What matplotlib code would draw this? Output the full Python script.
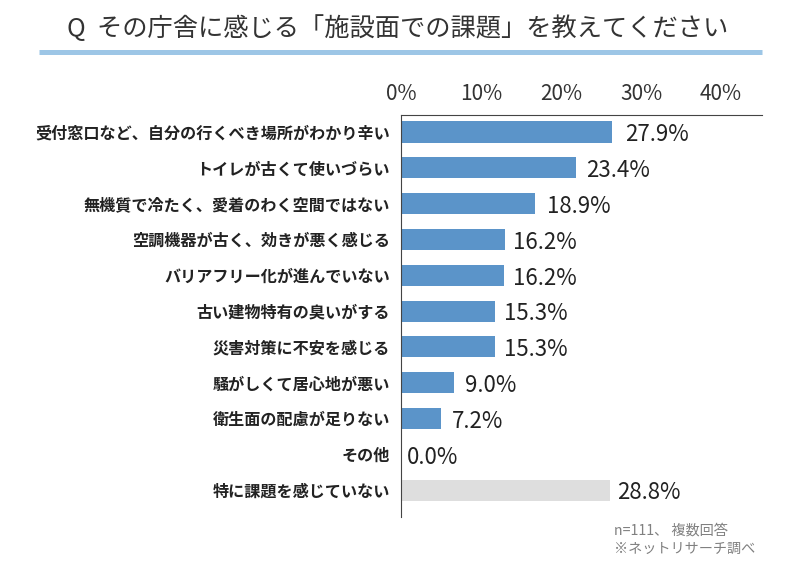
'''
This program will draw a bar chart of the facility problems people feel in government buildings.
'''

# For drawing the chart
import matplotlib.pyplot as plt
from matplotlib.lines import Line2D

plt.rcParams['font.family'] = ['Noto Sans CJK JP', 'DejaVu Sans']

labels = ['受付窓口など、自分の行くべき場所がわかり辛い', 'トイレが古くて使いづらい',
          '無機質で冷たく、愛着のわく空間ではない', '空調機器が古く、効きが悪く感じる',
          'バリアフリー化が進んでいない', '古い建物特有の臭いがする', '災害対策に不安を感じる',
          '騒がしくて居心地が悪い', '衛生面の配慮が足りない', 'その他', '特に課題を感じていない']
lengths = [26.4, 21.9, 16.8, 13.0, 12.9, 11.8, 11.8, 6.6, 5.0, 0.0, 26.1] # as drawn, bars do not follow the printed numbers
printed = ['27.9%', '23.4%', '18.9%', '16.2%', '16.2%', '15.3%', '15.3%', '9.0%', '7.2%', '0.0%', '28.8%']
gaps = [9, 7, 8, 6, 6, 6, 6, 8, 8, 4, 5] # points between bar end and number

def draw_chart():
    '''
    Draw the bars, their numbers and the axis lines.
    '''

    positions = list(range(len(labels)))
    colors = ['#5b94c9'] * 10 + ['#dedede']

    plt.axes([401 / 800, 1 - 517 / 568, 361 / 800, 402 / 568])
    plt.barh(positions, lengths, height=0.59, color=colors)
    plt.xlim(0, 45.1)
    plt.ylim(10.75, -0.475)

    plt.yticks(positions, labels, fontsize=11.6, fontweight='bold', color='#222222')
    plt.xticks([0, 10, 20, 30, 40], ['0%', '10%', '20%', '30%', '40%'], fontsize=15, color='#333333')
    plt.tick_params(axis='x', top=True, labeltop=True, bottom=False, labelbottom=False, length=0, pad=7)
    plt.tick_params(axis='y', length=0, pad=8)

    ax = plt.gca()
    ax.spines['right'].set_visible(False)
    ax.spines['bottom'].set_visible(False)
    ax.spines['left'].set_color('#444444')
    ax.spines['top'].set_color('#444444')

    for i in positions:
        plt.annotate(printed[i], (lengths[i], i), xytext=(gaps[i], -2), textcoords='offset points',
                     va='center', fontsize=16, color='#222222')

    return

def draw_header_and_note():
    '''
    Put the question, the rule under it and the sample note on the figure.
    '''

    fig = plt.gcf()
    plt.figtext(398 / 800, 1 - 29 / 568, 'Q  その庁舎に感じる「施設面での課題」を教えてください',
                ha='center', va='center', fontsize=18.2, color='#333333')
    fig.add_artist(Line2D([39 / 800, 762 / 800], [1 - 52 / 568, 1 - 52 / 568], color='#9dc6e6', lw=3.6, solid_capstyle='butt'))
    plt.figtext(614 / 800, 1 - 531 / 568, 'n=111、 複数回答', va='center', fontsize=10.2, color='#808080')
    plt.figtext(614 / 800, 1 - 549 / 568, '※ネットリサーチ調べ', va='center', fontsize=10.2, color='#808080')

    return

def main():

    plt.figure(figsize=(8, 5.68), dpi=100)
    draw_chart()
    draw_header_and_note()
    plt.savefig('out.png', dpi=100)

main()
